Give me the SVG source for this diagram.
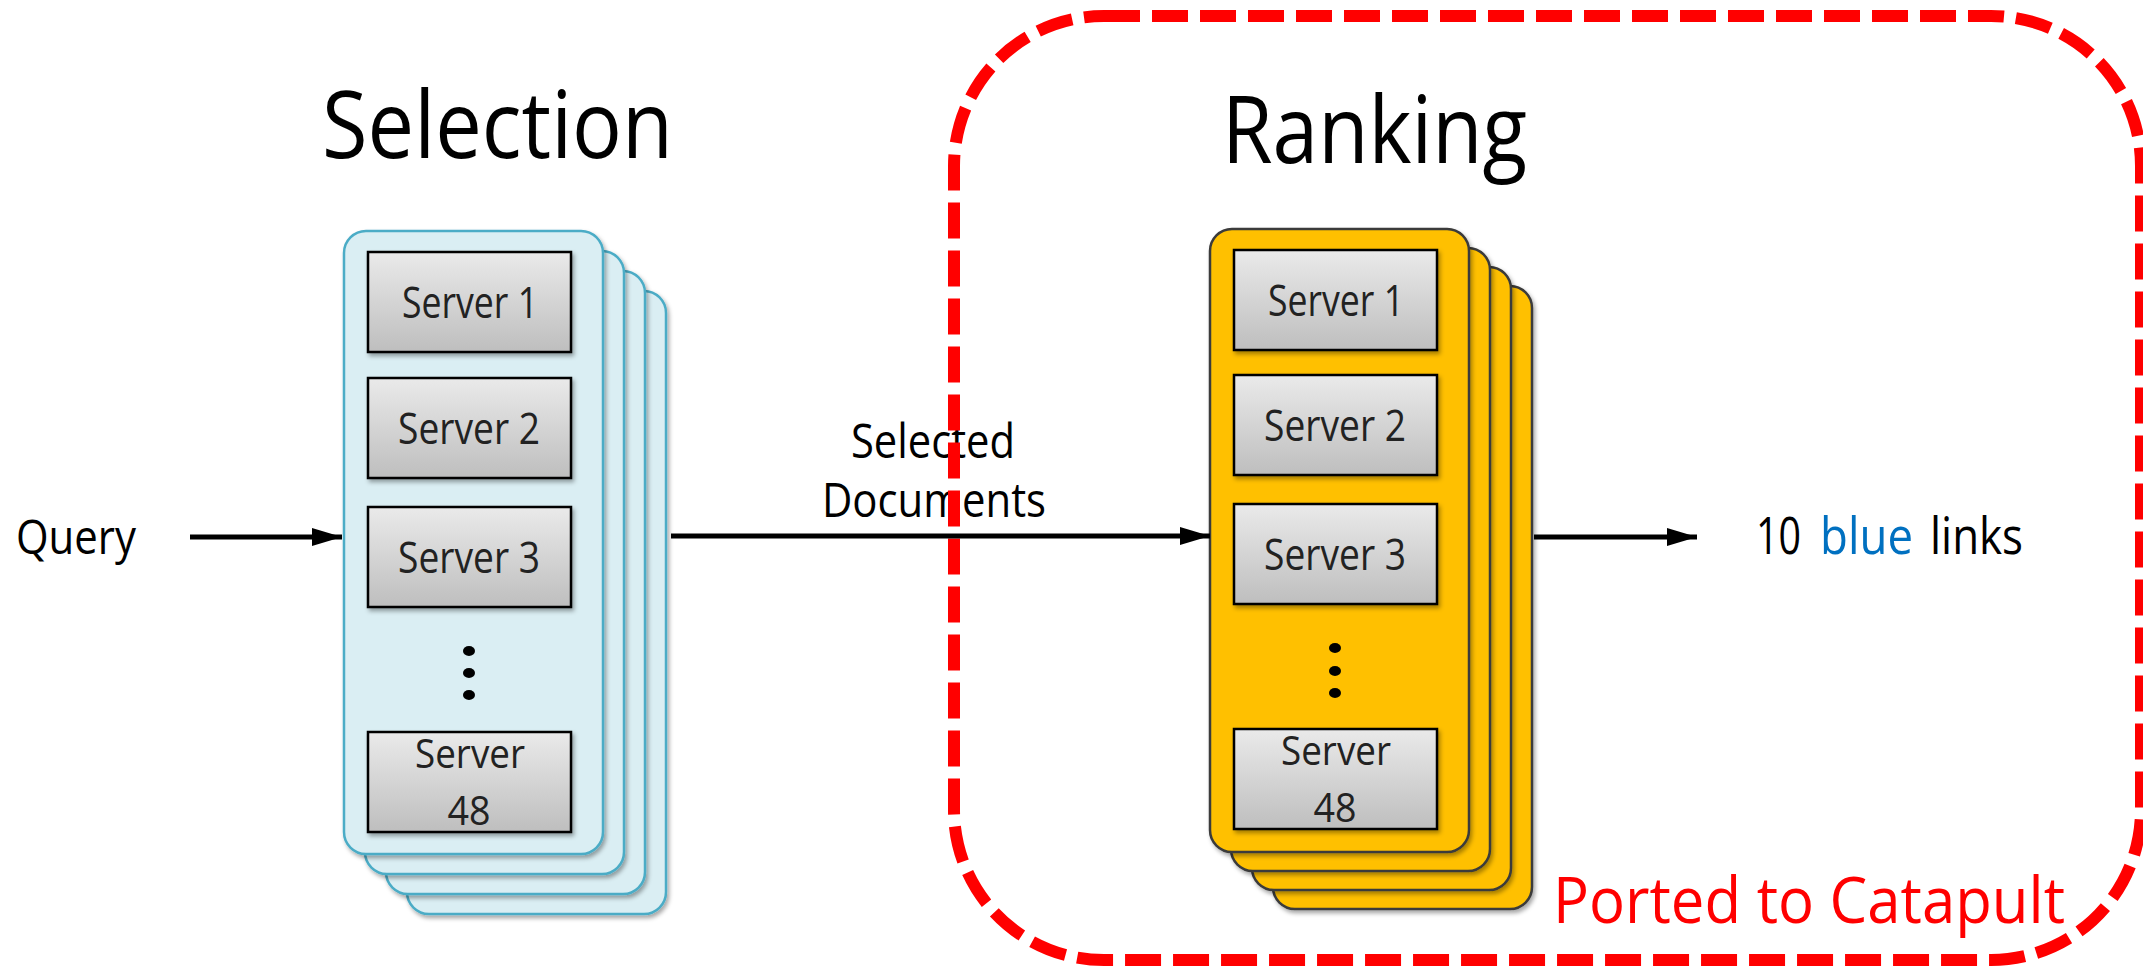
<svg xmlns="http://www.w3.org/2000/svg" width="2143" height="971" viewBox="0 0 2143 971">
<defs>
<linearGradient id="srvGrad" x1="0" y1="0" x2="0" y2="1">
<stop offset="0" stop-color="#EAEAEA"/>
<stop offset="1" stop-color="#BEBEBE"/>
</linearGradient>
<filter id="sh" x="-10%" y="-10%" width="130%" height="130%">
<feDropShadow dx="2" dy="3" stdDeviation="2" flood-color="#000" flood-opacity="0.35"/>
</filter>
<marker id="arr" markerUnits="userSpaceOnUse" markerWidth="32" markerHeight="20" refX="30" refY="9" orient="auto">
<path d="M0,0 L30,9 L0,18 Z" fill="#000"/>
</marker>
<style>
text{font-family:"Open Sans","Noto Sans","Liberation Sans",sans-serif;fill:#000}
.title{font-size:93px}
.lbl{font-size:47px}
.srv{font-size:43px;fill:#222}
.srv2{font-size:41px;fill:#222}
.bcard{fill:#DAEEF3;stroke:#4BACC6;stroke-width:2.5}
.ycard{fill:#FFC000;stroke:#3A3A3A;stroke-width:2.5}
.box{fill:url(#srvGrad);stroke:#000;stroke-width:2.5}
.conn{stroke:#000;stroke-width:5;fill:none;marker-end:url(#arr)}
</style>
</defs>
<rect x="0" y="0" width="2143" height="971" fill="#FFFFFF"/>

<text id="title-selection" class="title" x="322" y="158" textLength="351" lengthAdjust="spacingAndGlyphs">Selection</text>
<text id="title-ranking" class="title" x="1222" y="163" textLength="305" lengthAdjust="spacingAndGlyphs">Ranking</text>

<g id="query">
<text class="lbl" x="16" y="554" textLength="120" lengthAdjust="spacingAndGlyphs">Query</text>
</g>

<g id="selection">
<rect class="bcard" x="407" y="291" width="259" height="623" rx="22" filter="url(#sh)"/>
<rect class="bcard" x="386" y="271" width="259" height="623" rx="22" filter="url(#sh)"/>
<rect class="bcard" x="365" y="251" width="259" height="623" rx="22" filter="url(#sh)"/>
<rect class="bcard" x="344" y="231" width="259" height="623" rx="22" filter="url(#sh)"/>
<g id="sel-server1"><rect class="box" x="368" y="252" width="203" height="100" filter="url(#sh)"/><text class="srv" x="470" y="318" text-anchor="middle" textLength="136" lengthAdjust="spacingAndGlyphs">Server 1</text></g>
<g id="sel-server2"><rect class="box" x="368" y="378" width="203" height="100" filter="url(#sh)"/><text class="srv" x="469" y="444" text-anchor="middle" textLength="142" lengthAdjust="spacingAndGlyphs">Server 2</text></g>
<g id="sel-server3"><rect class="box" x="368" y="507" width="203" height="100" filter="url(#sh)"/><text class="srv" x="469" y="573" text-anchor="middle" textLength="142" lengthAdjust="spacingAndGlyphs">Server 3</text></g>
<ellipse cx="469" cy="651" rx="6" ry="5"/>
<ellipse cx="469" cy="673" rx="6" ry="5"/>
<ellipse cx="469" cy="695" rx="6" ry="5"/>
<g id="sel-server48"><rect class="box" x="368" y="732" width="203" height="100" filter="url(#sh)"/><text class="srv2" text-anchor="middle"><tspan x="470" y="768" textLength="110" lengthAdjust="spacingAndGlyphs">Server</tspan><tspan x="469" y="825" textLength="43" lengthAdjust="spacingAndGlyphs">48</tspan></text></g>
</g>

<g id="ranking">
<rect class="ycard" x="1273" y="286" width="259" height="623" rx="22" filter="url(#sh)"/>
<rect class="ycard" x="1252" y="267" width="259" height="623" rx="22" filter="url(#sh)"/>
<rect class="ycard" x="1231" y="248" width="259" height="623" rx="22" filter="url(#sh)"/>
<rect class="ycard" x="1210" y="229" width="259" height="623" rx="22" filter="url(#sh)"/>
<g id="rank-server1"><rect class="box" x="1234" y="250" width="203" height="100" filter="url(#sh)"/><text class="srv" x="1336" y="316" text-anchor="middle" textLength="136" lengthAdjust="spacingAndGlyphs">Server 1</text></g>
<g id="rank-server2"><rect class="box" x="1234" y="375" width="203" height="100" filter="url(#sh)"/><text class="srv" x="1335" y="441" text-anchor="middle" textLength="142" lengthAdjust="spacingAndGlyphs">Server 2</text></g>
<g id="rank-server3"><rect class="box" x="1234" y="504" width="203" height="100" filter="url(#sh)"/><text class="srv" x="1335" y="570" text-anchor="middle" textLength="142" lengthAdjust="spacingAndGlyphs">Server 3</text></g>
<ellipse cx="1335" cy="648" rx="6" ry="5"/>
<ellipse cx="1335" cy="671" rx="6" ry="5"/>
<ellipse cx="1335" cy="693" rx="6" ry="5"/>
<g id="rank-server48"><rect class="box" x="1234" y="729" width="203" height="100" filter="url(#sh)"/><text class="srv2" text-anchor="middle"><tspan x="1336" y="765" textLength="110" lengthAdjust="spacingAndGlyphs">Server</tspan><tspan x="1335" y="822" textLength="43" lengthAdjust="spacingAndGlyphs">48</tspan></text></g>
</g>

<g id="selected-docs-label">
<text class="lbl" x="851" y="458" textLength="164" lengthAdjust="spacingAndGlyphs">Selected</text>
<text class="lbl" x="822" y="517" textLength="224" lengthAdjust="spacingAndGlyphs">Documents</text>
</g>

<g id="catapult-region">
<rect x="954" y="16" width="1187" height="944" rx="150" ry="150" fill="none" stroke="#FF0000" stroke-width="12" stroke-dasharray="36 12"/>
<text x="1553" y="923" style="font-size:64px;fill:#FF0000" textLength="512" lengthAdjust="spacingAndGlyphs">Ported to Catapult</text>
</g>

<g id="output">
<text class="lbl" style="font-size:52px" y="554"><tspan x="1756" textLength="45" lengthAdjust="spacingAndGlyphs">10</tspan><tspan x="1820" textLength="93" lengthAdjust="spacingAndGlyphs" style="fill:#0070C0">blue</tspan><tspan x="1930" textLength="93" lengthAdjust="spacingAndGlyphs">links</tspan></text>
</g>

<g id="connectors">
<line class="conn" x1="190" y1="537" x2="342" y2="537"/>
<line class="conn" x1="671" y1="536" x2="1210" y2="536"/>
<line class="conn" x1="1534" y1="537" x2="1697" y2="537"/>
</g>
</svg>
